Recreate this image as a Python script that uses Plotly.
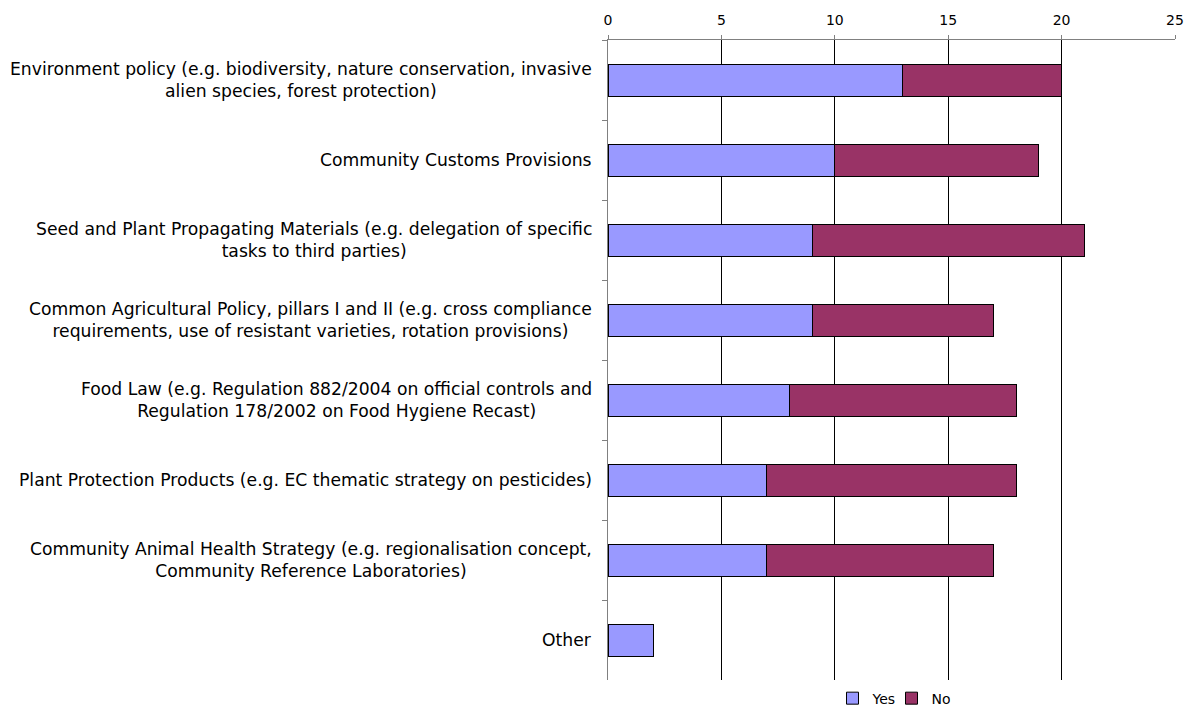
import plotly.graph_objects as go

categories = [
    "Environment policy (e.g. biodiversity, nature conservation, invasive<br>alien species, forest protection)",
    "Community Customs Provisions",
    "Seed and Plant Propagating Materials (e.g. delegation of specific<br>tasks to third parties)",
    "Common Agricultural Policy, pillars I and II (e.g. cross compliance<br>requirements, use of resistant varieties, rotation provisions)",
    "Food Law (e.g. Regulation 882/2004 on official controls and<br>Regulation 178/2002 on Food Hygiene Recast)",
    "Plant Protection Products (e.g. EC thematic strategy on pesticides)",
    "Community Animal Health Strategy (e.g. regionalisation concept,<br>Community Reference Laboratories)",
    "Other",
]
yes_values = [13, 10, 9, 9, 8, 7, 7, 2]
no_values = [7, 9, 12, 8, 10, 11, 10, 0]
x_ticks = [0, 5, 10, 15, 20, 25]

FONT = "DejaVu Sans, Verdana, sans-serif"

fig = go.Figure()
fig.add_trace(go.Bar(
    y=categories, x=yes_values, name="Yes", orientation="h",
    marker=dict(color="#9999FF", line=dict(color="#000000", width=1)),
))
fig.add_trace(go.Bar(
    y=categories, x=no_values, name="No", orientation="h",
    marker=dict(color="#993366", line=dict(color="#000000", width=1)),
))

# Category labels, centred line by line, placed left of the plot area
for cat in categories:
    fig.add_annotation(
        x=0, xref="paper", y=cat, yref="y",
        text=cat, showarrow=False, xanchor="right", yanchor="middle",
        align="center", xshift=-14,
        font=dict(family=FONT, size=17.2, color="#000000"),
    )

fig.update_layout(
    barmode="stack",
    bargap=0.6,
    width=1194, height=708,
    margin=dict(l=608, r=19, t=40, b=28, autoexpand=False),
    paper_bgcolor="white", plot_bgcolor="white",
    font=dict(family=FONT, size=12, color="#000000"),
    showlegend=True,
    legend=dict(
        orientation="h", x=0.5, xanchor="center", y=-0.004, yanchor="top",
        font=dict(family=FONT, size=14), traceorder="normal",
        itemwidth=30, entrywidth=14, tracegroupgap=0,
    ),
    xaxis=dict(
        side="top", range=[0, 25], tickvals=x_ticks,
        showgrid=True, gridcolor="#000000", gridwidth=1,
        showline=True, linecolor="#808080", linewidth=1,
        ticks="outside", ticklen=4, tickcolor="#808080",
        tickfont=dict(family=FONT, size=14),
        ticklabelstandoff=4,
        zeroline=False,
    ),
    yaxis=dict(
        autorange="reversed", showticklabels=False,
        showline=True, linecolor="#808080", linewidth=1,
        ticks="outside", tickson="boundaries", ticklen=5, tickcolor="#808080",
        showgrid=False, zeroline=False,
    ),
)

fig.write_html("out.html")
